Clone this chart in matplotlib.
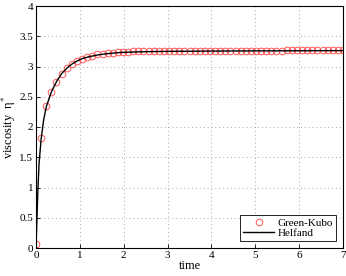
import matplotlib
matplotlib.use("Agg")
import matplotlib.pyplot as plt
import numpy as np

plt.rcParams['font.family'] = ['Liberation Serif', 'DejaVu Serif']
plt.rcParams['mathtext.fontset'] = 'stix'

# Green-Kubo samples (t = k*7/60)
gk_t = [k * 7 / 60 for k in range(61)]
gk_eta = [0.07, 1.82, 2.34, 2.58, 2.75, 2.88, 2.97, 3.04, 3.09, 3.12,
          3.15, 3.18, 3.20, 3.21, 3.22, 3.23, 3.235, 3.24, 3.245, 3.248,
          3.25, 3.252, 3.254, 3.255, 3.256, 3.257, 3.258, 3.258, 3.259, 3.259,
          3.26, 3.26, 3.26, 3.261, 3.261, 3.261, 3.262, 3.262, 3.262, 3.262,
          3.263, 3.263, 3.263, 3.263, 3.264, 3.264, 3.264, 3.264, 3.264, 3.265,
          3.265, 3.265, 3.265, 3.265, 3.266, 3.266, 3.266, 3.266, 3.266, 3.267, 3.267]

# Helfand curve
hf_t = [0, 0.02, 0.04, 0.07, 0.117, 0.175, 0.233, 0.35, 0.467, 0.583, 0.7,
        0.817, 0.933, 1.05, 1.2, 1.4, 1.6, 1.8, 2.0, 2.5, 3.0, 4.0, 5.0, 6.0, 7.0]
hf_eta = [0.0, 0.45, 0.90, 1.40, 1.80, 2.12, 2.33, 2.58, 2.75, 2.88, 2.97,
          3.04, 3.09, 3.13, 3.16, 3.19, 3.21, 3.225, 3.235, 3.245, 3.25, 3.255, 3.258, 3.26, 3.262]

fig = plt.figure(figsize=(3.46, 2.76), dpi=100)
ax = fig.add_axes([36/346, 28/276, 307/346, 242/276])

ax.plot(gk_t, gk_eta, linestyle='none', marker='o', markersize=4.8,
        markerfacecolor='none', markeredgecolor='#ff5555', markeredgewidth=0.7,
        label='Green-Kubo')
ax.plot(hf_t, hf_eta, color='black', linewidth=1.0, label='Helfand')

ax.set_xlim(0, 7)
ax.set_ylim(0, 4)
ax.set_xticks(range(8))
ax.set_yticks([0, 0.5, 1, 1.5, 2, 2.5, 3, 3.5, 4])
ax.set_yticklabels(['0', '0.5', '1', '1.5', '2', '2.5', '3', '3.5', '4'])
ax.tick_params(direction='in', labelsize=8, length=3, width=0.6, pad=2)
ax.grid(True, linestyle=(0, (1, 3)), color='#aaaaaa', linewidth=0.7)
for s in ax.spines.values():
    s.set_linewidth(0.8)

ax.set_xlabel('time', fontsize=9, labelpad=0)
ax.set_ylabel('viscosity  η$^{*}$', fontsize=9, labelpad=1)

leg = ax.legend(loc='lower right', fontsize=8, fancybox=False, framealpha=1,
                edgecolor='black', borderpad=0.3, handlelength=2.8,
                handletextpad=0.3, labelspacing=0.05, borderaxespad=0.6)
leg.get_frame().set_linewidth(0.6)

fig.savefig('out.png', dpi=100)
